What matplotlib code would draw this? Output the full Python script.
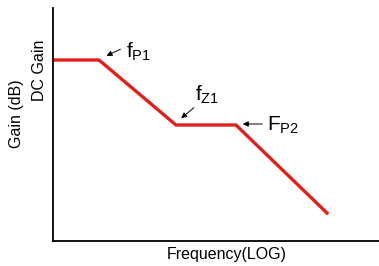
import matplotlib
matplotlib.use('Agg')
import matplotlib.pyplot as plt

# Данные: асимптотическая АЧХ (условные единицы)
freq_log = [0, 46, 123, 183, 274]
gain_db = [181, 181, 116, 116, 28]

labels = ['$f_{P1}$', '$f_{Z1}$', '$F_{P2}$']
label_pos = [(73, 189), (142, 146), (214, 116)]
arrow_tip = [(51, 184), (126, 121), (187, 117)]
arrow_tail = [(70, 193), (143, 135), (212, 117)]

plt.rcParams['font.family'] = ['Liberation Sans', 'DejaVu Sans']
plt.rcParams['mathtext.fontset'] = 'custom'
plt.rcParams['mathtext.rm'] = 'Liberation Sans'
plt.rcParams['mathtext.it'] = 'Liberation Sans'
plt.rcParams['mathtext.default'] = 'regular'

fig = plt.figure(figsize=(3.79, 2.66), dpi=100)
ax = fig.add_axes([53 / 379, 25 / 266, 326 / 379, 233 / 266])

ax.plot(freq_log, gain_db, color='#e0201b', linewidth=2.4, solid_joinstyle='miter')

ax.set_xlim(0, 326)
ax.set_ylim(0, 233)
ax.set_xticks([])
ax.set_yticks([])
for s in ['top', 'right']:
    ax.spines[s].set_visible(False)
for s in ['left', 'bottom']:
    ax.spines[s].set_linewidth(1.3)

# Подписи осей
fig.text(227 / 379, 1 - 255 / 266, 'Frequency(LOG)', fontsize=11.5,
         ha='center', va='center')
fig.text(17 / 379, 1 - 114 / 266, 'Gain (dB)', rotation=90, fontsize=11.5,
         ha='center', va='center')
fig.text(40 / 379, 1 - 70 / 266, 'DC Gain', rotation=90, fontsize=11.5,
         ha='center', va='center')

# Подписи точек излома со стрелками
for lab, pos, tip, tail in zip(labels, label_pos, arrow_tip, arrow_tail):
    ax.annotate('', xy=tip, xytext=tail,
                arrowprops=dict(arrowstyle='-|>', color='black', lw=0.7,
                                mutation_scale=8))
    ax.text(pos[0], pos[1], lab, fontsize=15, ha='left', va='center')

plt.savefig('out.png', dpi=100)
